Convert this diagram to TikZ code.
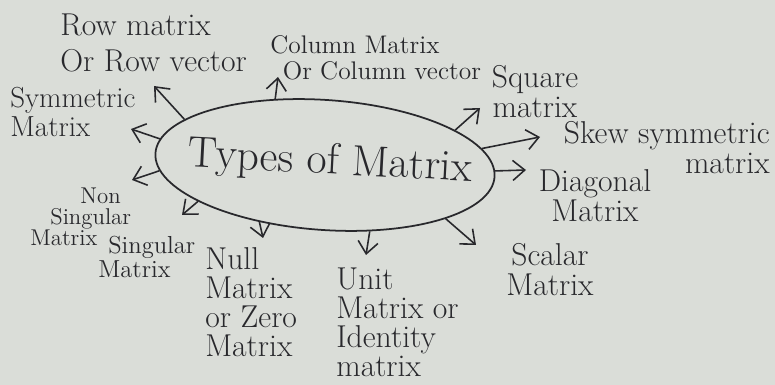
\documentclass[tikz,border=0pt]{standalone}
\usetikzlibrary{shapes.geometric,arrows.meta}
\definecolor{paper}{RGB}{218,221,216}
\definecolor{ink}{RGB}{40,40,44}
\begin{document}
\begin{tikzpicture}[x=0.02cm,y=-0.02cm]
%%%%%%%%%%%%%%%%%%%%%%%%%%%%%%%%%%%%%%%%%%%%%%%%%%%%%%%%
% STYLE
\tikzstyle{main}=[ellipse,draw=ink,line width=1pt,minimum width=6.8cm,minimum height=2.6cm,inner sep=0pt,rotate=-4]
\tikzstyle{title}=[text=ink,font=\Huge,rotate=-3]
\tikzstyle{txt}=[text=ink,font=\fontsize{18}{19}\selectfont,inner sep=0pt]
\tikzstyle{stxt}=[text=ink,font=\fontsize{14}{17}\selectfont,inner sep=0pt]
\tikzstyle{ntxt}=[text=ink,font=\fontsize{13}{15}\selectfont,inner sep=0pt]
\tikzstyle{arr}=[draw=ink,line width=0.9pt,-{Straight Barb[length=2.4mm,width=4mm]}]

% paper
\fill[paper] (0,0) rectangle (775,385);
\useasboundingbox (0,0) rectangle (775,385);

%%%%%%%%%%%%%%%%%%%%%%%%%%%%%%%%%%%%%%%%%%%%%%%%%%%%%%%%
% NODES
\node[main] (M) at (325,165) {};
\node[title] (T) at (330,163) {Types of Matrix};

\node[txt,align=left,anchor=west] (row) at (60,43) {Row matrix\\[2pt]Or Row vector};
\node[stxt,font=\fontsize{14.5}{17}\selectfont,align=left,anchor=west] (col) at (270,58) {Column Matrix\\[-2pt]\hspace{0.25cm}Or Column vector};
\node[txt,align=center] (sq) at (535,92) {Square\\[-2pt]matrix};
\node[txt,align=right,anchor=east] (skew) at (770,148) {Skew symmetric\\[-2pt]matrix};
\node[txt,align=center] (diag) at (595,196) {Diagonal\\[-2pt]Matrix};
\node[txt,align=center] (scal) at (550,270) {Scalar\\[-2pt]Matrix};
\node[txt,align=left,anchor=west] (unit) at (336,322) {Unit\\[-2.5pt]Matrix or\\[-2.5pt]Identity\\[-2.5pt]matrix};
\node[txt,align=left,anchor=west] (null) at (205,302) {Null\\[-2.5pt]Matrix\\[-2.5pt]or Zero\\[-2.5pt]Matrix};
\node[stxt,align=left,anchor=west] (sing) at (98,257) {\hspace{0.2cm}Singular\\[-3pt]Matrix};
\node[ntxt,align=left,anchor=west] (nons) at (30,217) {\hspace{1cm}Non\\[-3pt]\hspace{0.4cm}Singular\\[-3pt]Matrix};
\node[txt,font=\fontsize{16.5}{19}\selectfont,align=left,anchor=west] (sym) at (10,112) {Symmetric\\[-2pt]Matrix};

\coordinate (rowtip) at (154,86);
\coordinate (coltip) at (278,77);
\coordinate (sqtip) at (480,108);
\coordinate (skewtip) at (540,137);
\coordinate (diagtip) at (526,170);
\coordinate (scaltip) at (476,245);
\coordinate (unittip) at (366,255);
\coordinate (nulltip) at (263,238);
\coordinate (singtip) at (182,215);
\coordinate (nonstip) at (132,180);
\coordinate (symtip) at (131,129);

%%%%%%%%%%%%%%%%%%%%%%%%%%%%%%%%%%%%%%%%%%%%%%%%%%%%%%%%
% LINKS
\draw[arr] (M.166) -- (rowtip);
\draw[arr] (M.131) -- (coltip);
\draw[arr] (M.19) -- (sqtip);
\draw[arr] (M.10) -- (skewtip);
\draw[arr] (M.2) -- (diagtip);
\draw[arr] (M.-20) -- (scaltip);
\draw[arr] (M.-52) -- (unittip);
\draw[arr] (M.225) -- (nulltip);
\draw[arr] (M.200) -- (singtip);
\draw[arr] (M.186) -- (nonstip);
\draw[arr] (M.175) -- (symtip);

\end{tikzpicture}
\end{document}
